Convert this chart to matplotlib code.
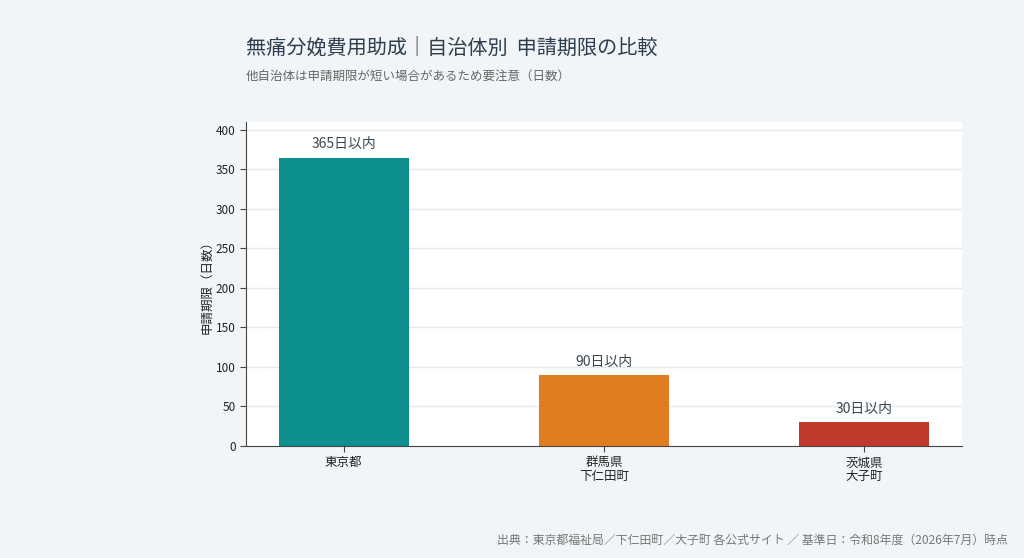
import matplotlib.pyplot as plt

plt.rcParams['font.family'] = ['Noto Sans CJK JP', 'DejaVu Sans']

regions = ["東京都", "群馬県\n下仁田町", "茨城県\n大子町"]
deadline_days = [365, 90, 30]
bar_labels = ["365日以内", "90日以内", "30日以内"]
colors = ["#0e8f8f", "#e07b20", "#c0392b"]

fig = plt.figure(figsize=(10.24, 5.58), dpi=100, facecolor="#f2f5f7")
ax = fig.add_axes([246 / 1024, 1 - 446 / 558, (962 - 246) / 1024, (446 - 122) / 558])
ax.set_facecolor("white")

x = range(len(regions))
bars = ax.bar(x, deadline_days, width=0.5, color=colors, zorder=3)
for b, lab in zip(bars, bar_labels):
    ax.text(b.get_x() + b.get_width() / 2, b.get_height() + 8, lab,
            ha="center", va="bottom", fontsize=10, color="#3a4750")

ax.set_xlim(-0.375, 2.375)
ax.set_ylim(0, 410)
ax.set_yticks(range(0, 401, 50))
ax.set_xticks(list(x))
ax.set_xticklabels(regions, fontsize=9, color="#222222", linespacing=1.1)
ax.tick_params(axis="y", labelsize=8.5, colors="#222222")
ax.tick_params(axis="both", color="#444444", length=4)
ax.grid(axis="y", color="#e3e8ec", linewidth=1, zorder=0)
for s in ["top", "right"]:
    ax.spines[s].set_visible(False)
for s in ["left", "bottom"]:
    ax.spines[s].set_color("#444444")
ax.set_ylabel("申請期限（日数）", fontsize=9, color="#222222", labelpad=2)

fig.text(246 / 1024, 1 - 48 / 558, "無痛分娩費用助成｜自治体別  申請期限の比較",
         fontsize=14.5, color="#2c3e50", va="center", ha="left")
fig.text(246 / 1024, 1 - 76 / 558, "他自治体は申請期限が短い場合があるため要注意（日数）",
         fontsize=9, color="#666666", va="center", ha="left")
fig.text(1008 / 1024, 1 - 540 / 558,
         "出典：東京都福祉局／下仁田町／大子町 各公式サイト ／ 基準日：令和8年度（2026年7月）時点",
         fontsize=8.6, color="#777777", va="center", ha="right")

fig.savefig("out.png", dpi=100, facecolor=fig.get_facecolor())
